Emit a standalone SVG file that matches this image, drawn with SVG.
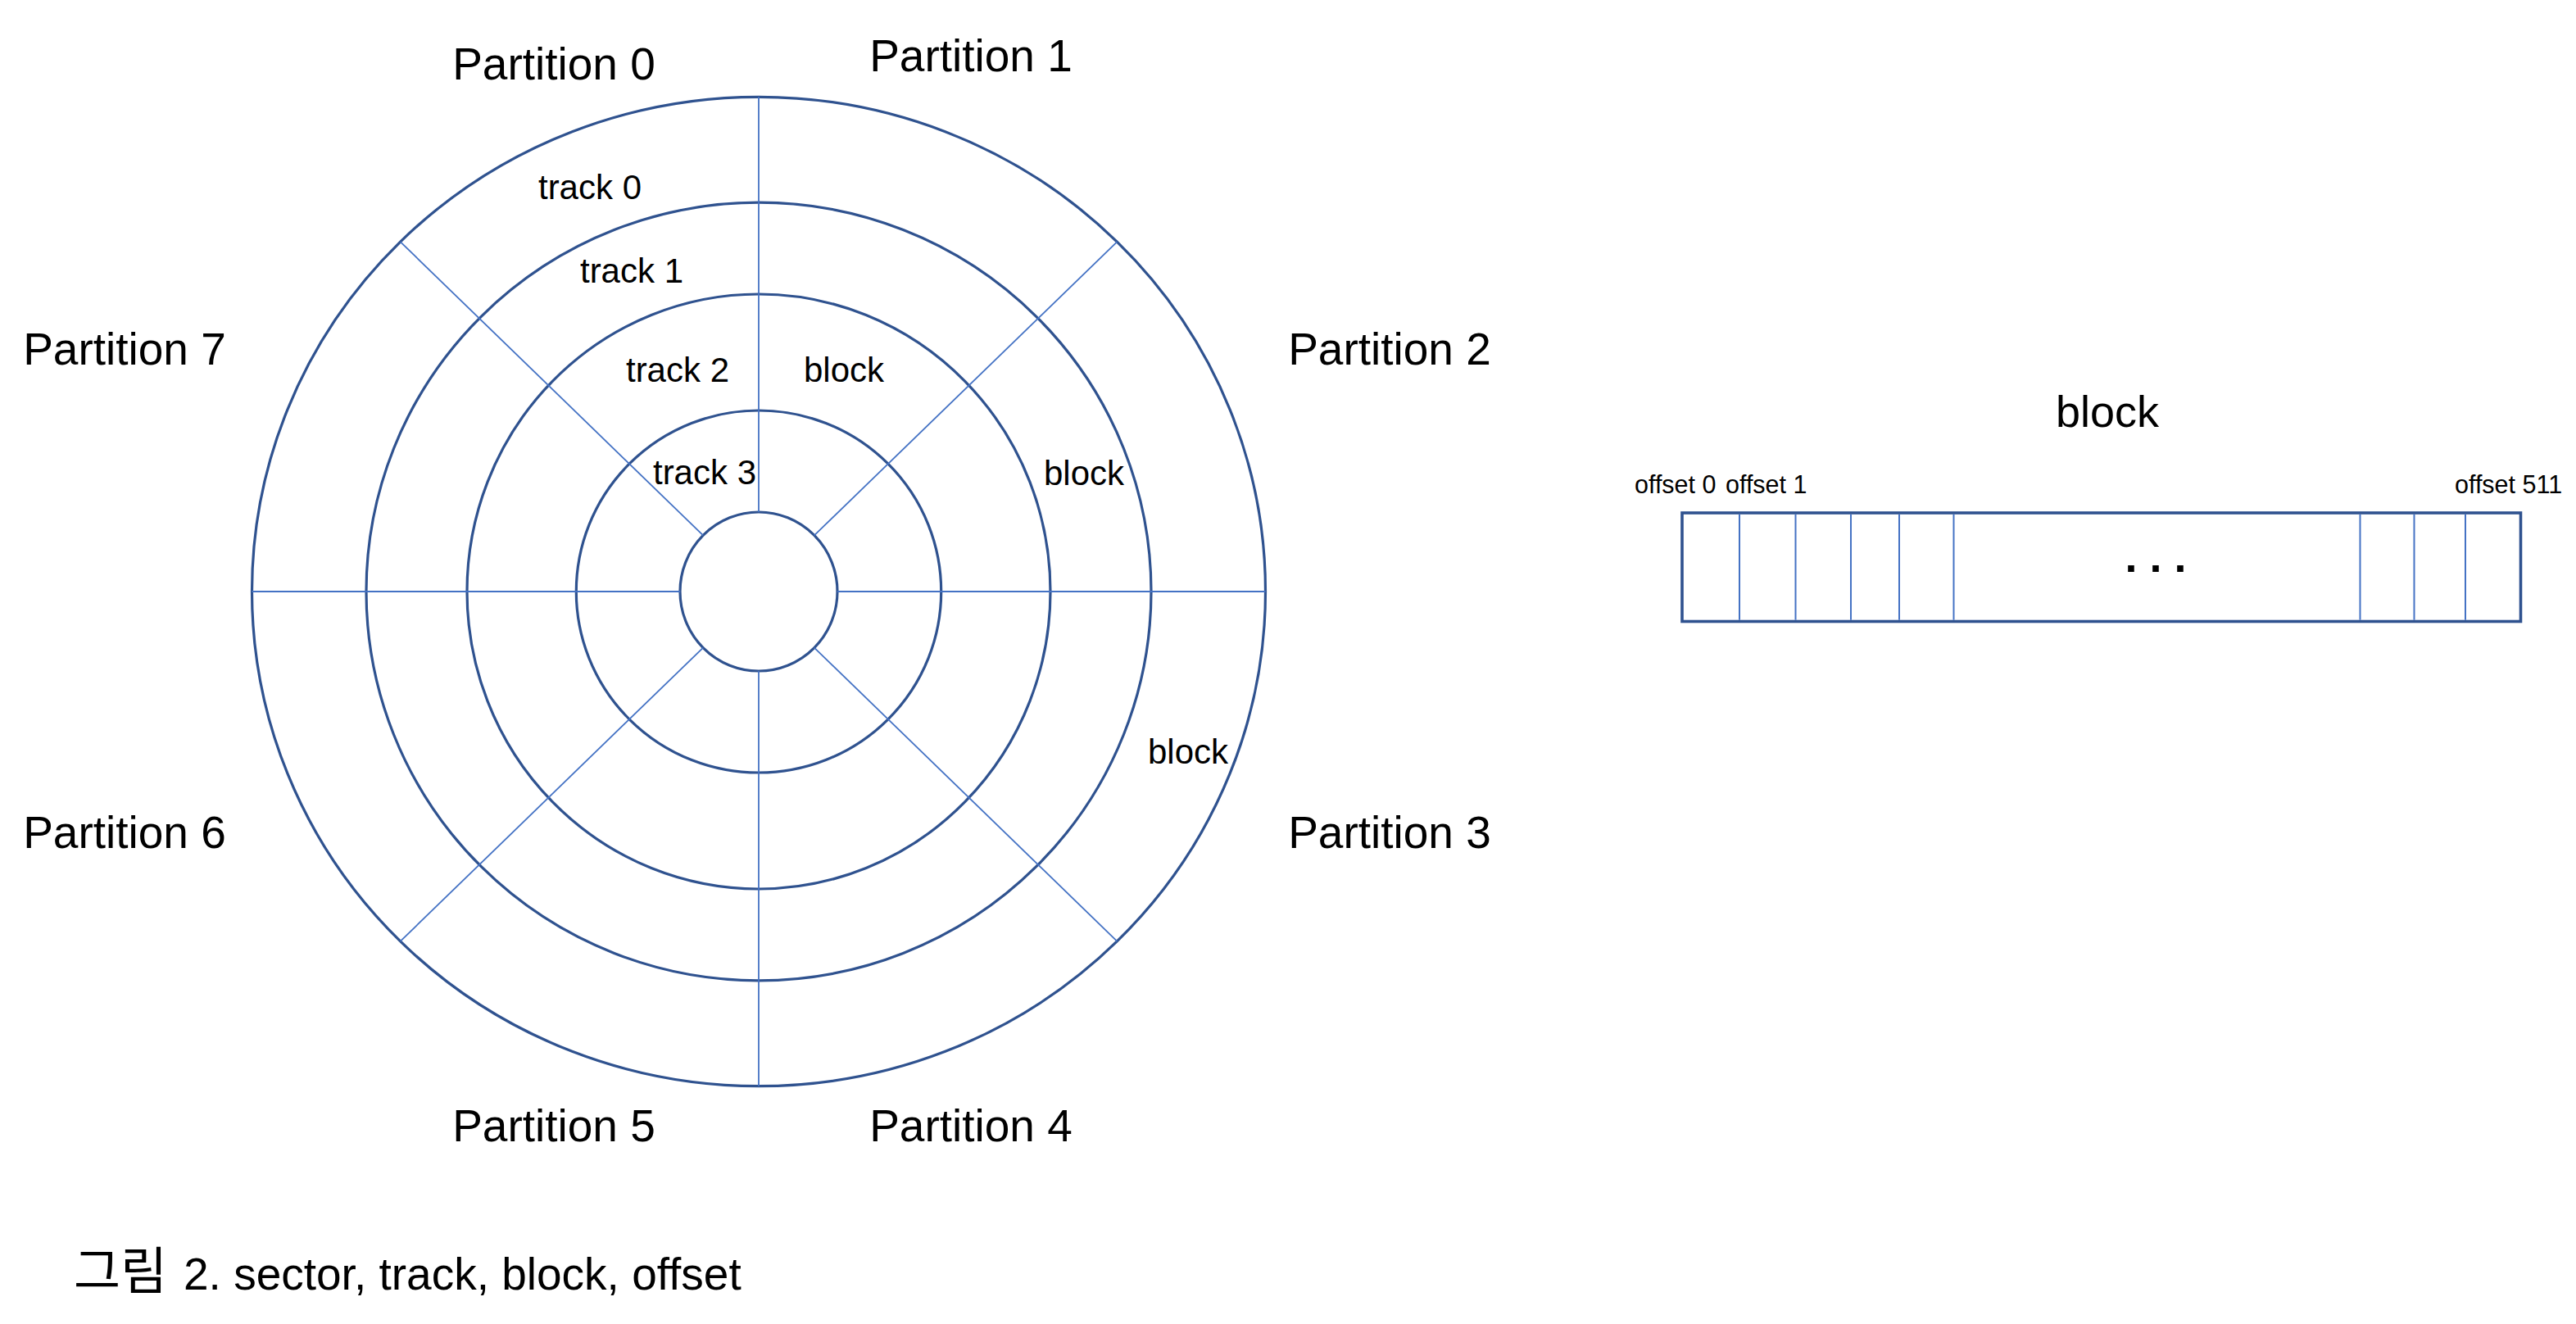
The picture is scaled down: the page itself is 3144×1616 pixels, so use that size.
<svg xmlns="http://www.w3.org/2000/svg" width="3144" height="1616" viewBox="0 0 3144 1616">
<style>
.ring{fill:none;stroke:#2F528F;stroke-width:3.2}
.spoke{stroke:#4472C4;stroke-width:1.8;fill:none}
.t{font-family:"Liberation Sans","Noto Sans CJK KR",sans-serif;fill:#000}
.part{font-size:55px;text-anchor:middle}
.lab{font-size:42px;text-anchor:middle}
.off{font-size:30.5px}
.box{fill:#fff;stroke:#2F528F;stroke-width:3.6}
.div{stroke:#4472C4;stroke-width:2}
</style>
<rect width="3144" height="1616" fill="#fff"/>
<g id="disk">
  <ellipse class="ring" cx="926" cy="722" rx="618.5" ry="603.7"/>
  <ellipse class="ring" cx="926" cy="722" rx="479" ry="474.8"/>
  <ellipse class="ring" cx="926" cy="722" rx="356" ry="363"/>
  <ellipse class="ring" cx="926" cy="722" rx="222.7" ry="221"/>
  <ellipse class="ring" cx="926" cy="722" rx="96" ry="97"/>
</g>
<g id="spokes">
  <line class="spoke" x1="926" y1="118.3" x2="926" y2="625"/>
  <line class="spoke" x1="926" y1="819" x2="926" y2="1325.7"/>
  <line class="spoke" x1="307.5" y1="722" x2="830" y2="722"/>
  <line class="spoke" x1="1022" y1="722" x2="1544.5" y2="722"/>
  <line class="spoke" x1="488.6" y1="295.1" x2="858.1" y2="653.4"/>
  <line class="spoke" x1="1363.4" y1="295.1" x2="993.9" y2="653.4"/>
  <line class="spoke" x1="488.6" y1="1148.9" x2="858.1" y2="790.6"/>
  <line class="spoke" x1="1363.4" y1="1148.9" x2="993.9" y2="790.6"/>
</g>
<g id="partition-labels">
  <text class="t part" x="676" y="97">Partition 0</text>
  <text class="t part" x="1185" y="87">Partition 1</text>
  <text class="t part" x="1696" y="445">Partition 2</text>
  <text class="t part" x="1696" y="1035">Partition 3</text>
  <text class="t part" x="1185" y="1393">Partition 4</text>
  <text class="t part" x="676" y="1393">Partition 5</text>
  <text class="t part" x="152" y="1035">Partition 6</text>
  <text class="t part" x="152" y="445">Partition 7</text>
</g>
<g id="track-labels">
  <text class="t lab" x="720" y="243">track 0</text>
  <text class="t lab" x="771" y="345">track 1</text>
  <text class="t lab" x="827" y="466">track 2</text>
  <text class="t lab" x="860" y="591">track 3</text>
  <text class="t lab" x="1030" y="466">block</text>
  <text class="t lab" x="1323" y="592">block</text>
  <text class="t lab" x="1450" y="932">block</text>
</g>
<g id="block-detail">
  <text class="t" x="2572" y="521" font-size="54" text-anchor="middle">block</text>
  <text class="t off" x="1995" y="602">offset 0</text>
  <text class="t off" x="2106" y="602">offset 1</text>
  <text class="t off" x="2996" y="602">offset 511</text>
  <rect class="box" x="2053" y="626" width="1023.5" height="132.5"/>
  <line class="div" x1="2123" y1="627.8" x2="2123" y2="756.7"/>
  <line class="div" x1="2191.5" y1="627.8" x2="2191.5" y2="756.7"/>
  <line class="div" x1="2259" y1="627.8" x2="2259" y2="756.7"/>
  <line class="div" x1="2318" y1="627.8" x2="2318" y2="756.7"/>
  <line class="div" x1="2384.5" y1="627.8" x2="2384.5" y2="756.7"/>
  <line class="div" x1="2880.5" y1="627.8" x2="2880.5" y2="756.7"/>
  <line class="div" x1="2946.5" y1="627.8" x2="2946.5" y2="756.7"/>
  <line class="div" x1="3009" y1="627.8" x2="3009" y2="756.7"/>
  <text class="t" x="2631" y="698" font-size="54" font-weight="bold" text-anchor="middle">. . .</text>
</g>
<g id="caption">
  <text class="t" x="90" y="1574" font-size="55"><tspan font-size="62">그림</tspan><tspan x="224">2. sector, track, block, offset</tspan></text>
</g>
</svg>
